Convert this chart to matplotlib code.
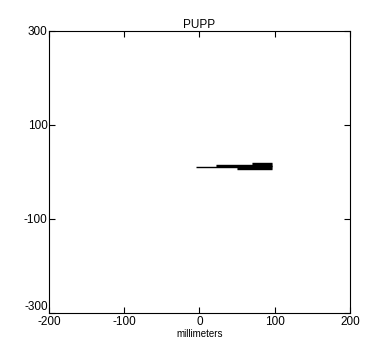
import matplotlib
matplotlib.use("Agg")
from matplotlib import pyplot as plt

plt.rcParams['font.family'] = ['Liberation Sans', 'DejaVu Sans']
plt.rcParams['axes.unicode_minus'] = False

# horizontal traces: start x, end x, y (millimeters)
x_start = [-4, 22, 22, 50, 50, 50, 70, 70]
x_end = [96, 97, 97, 97, 97, 97, 97, 97]
y_level = [10, 13, 15, 6, 8, 12, 17, 19]

xticks = [-200, -100, 0, 100, 200]
yticks = [-300, -100, 100, 300]

fig = plt.figure(figsize=(3.66, 3.6), dpi=100)
ax = fig.add_axes([0.134, 0.131, 0.822, 0.783])

for x0, x1, y in zip(x_start, x_end, y_level):
    ax.plot([x0, x1], [y, y], color='black', lw=1.0, solid_capstyle='butt')

ax.set_xlim(-200, 200)
ax.set_ylim(-300, 300)
ax.set_xticks(xticks)
ax.set_yticks(yticks)
ax.tick_params(direction='in', length=4, labelsize=8.5, pad=1,
               top=True, right=True, width=0.8)
ax.tick_params(axis='x', pad=2)
# bottom y label sits above the corner, as in the original
ax.get_yticklabels()[0].set_verticalalignment('bottom')
for s in ax.spines.values():
    s.set_linewidth(0.8)
ax.set_title('PUPP', fontsize=8.5, pad=2)
ax.set_xlabel('millimeters', fontsize=7, labelpad=1)

fig.savefig('out.png', dpi=100)
